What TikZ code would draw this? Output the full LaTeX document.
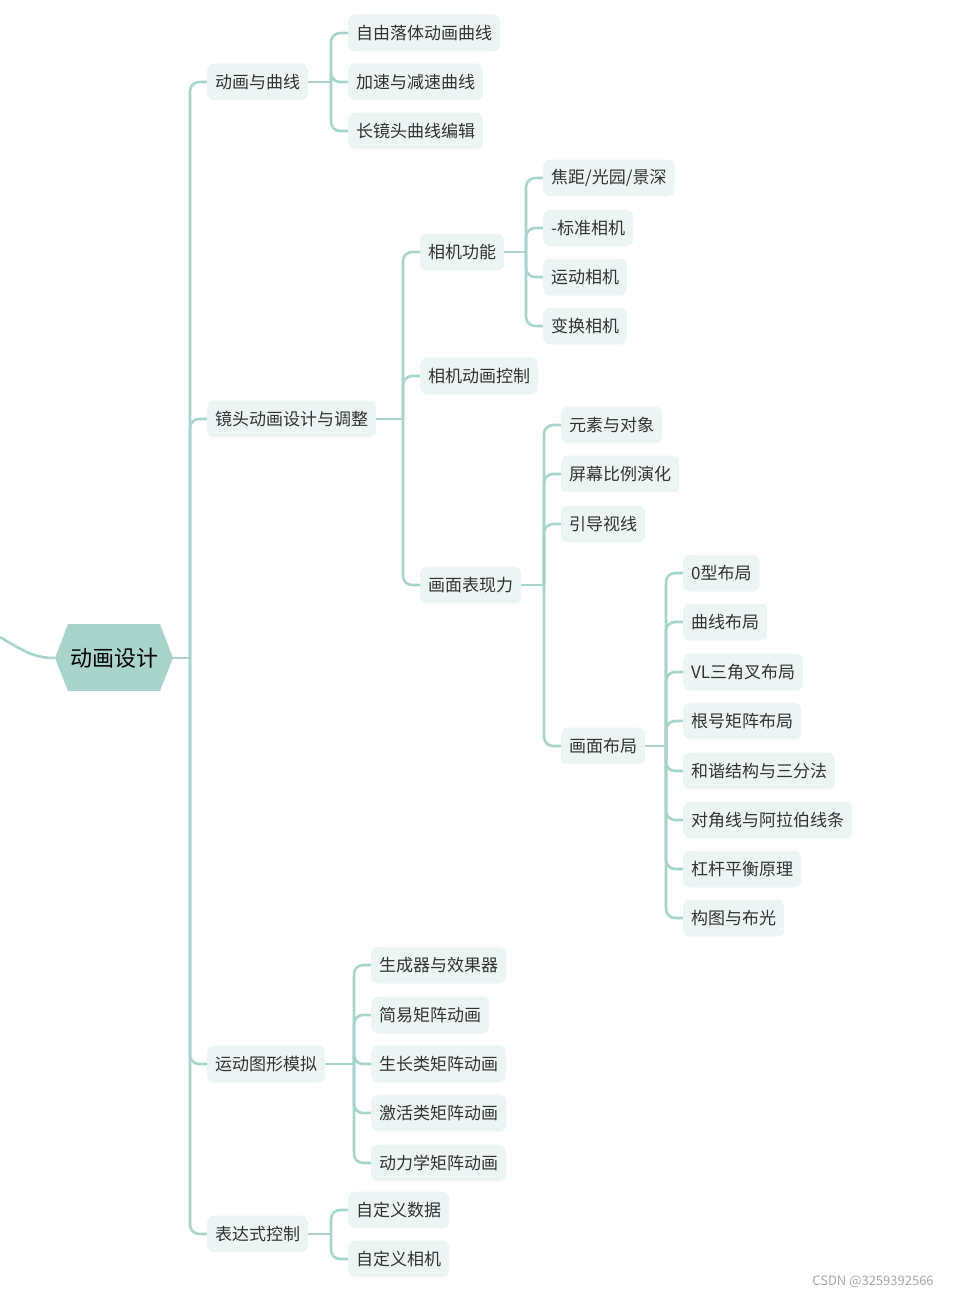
\documentclass[tikz,border=0pt]{standalone}
\usepackage{fontspec}
\setmainfont{Noto Sans CJK SC}
\definecolor{ln}{HTML}{A9D4CC}
\definecolor{bx}{HTML}{EDF5F4}
\definecolor{tx}{HTML}{333333}
\begin{document}
\begin{tikzpicture}[x=1pt,y=-1pt,
  nd/.style={anchor=west,fill=bx,rounded corners=7pt,inner xsep=8pt,minimum height=37pt,text=tx,font=\fontsize{17}{20}\selectfont},
  conn/.style={draw=ln,line width=2.6pt,rounded corners=9pt}]
\useasboundingbox (0,0) rectangle (968,1298);
% root
\fill[ln] (55,658)--(68,624)--(160,624)--(173,658)--(160,691)--(68,691)--cycle;
\node (root) at (114,658) [minimum width=118pt,minimum height=67pt,font=\fontsize{22}{26}\selectfont,text=black] {动画设计};
\coordinate (in) at (0,637);
\draw[conn] (in) .. controls (25,652) and (35,658) .. (root.west);
% level 1
\node[nd] (a) at (207,82) {动画与曲线};
\node[nd] (b) at (207,419) {镜头动画设计与调整};
\node[nd] (c) at (207,1064) {运动图形模拟};
\node[nd] (d) at (207,1234) {表达式控制};
% a
\node[nd] (a1) at (348,33) {自由落体动画曲线};
\node[nd] (a2) at (348,82) {加速与减速曲线};
\node[nd] (a3) at (348,131) {长镜头曲线编辑};
% b
\node[nd] (b1) at (420,252) {相机功能};
\node[nd] (b2) at (420,376) {相机动画控制};
\node[nd] (b3) at (420,585) {画面表现力};
\node[nd] (b11) at (543,178) {焦距/光园/景深};
\node[nd] (b12) at (543,228) {-标准相机};
\node[nd] (b13) at (543,277) {运动相机};
\node[nd] (b14) at (543,326) {变换相机};
\node[nd] (b31) at (561,425) {元素与对象};
\node[nd] (b32) at (561,474) {屏幕比例演化};
\node[nd] (b33) at (561,524) {引导视线};
\node[nd] (b34) at (561,746) {画面布局};
\node[nd] (e1) at (683,573) {0型布局};
\node[nd] (e2) at (683,622) {曲线布局};
\node[nd] (e3) at (683,672) {VL三角叉布局};
\node[nd] (e4) at (683,721) {根号矩阵布局};
\node[nd] (e5) at (683,771) {和谐结构与三分法};
\node[nd] (e6) at (683,820) {对角线与阿拉伯线条};
\node[nd] (e7) at (683,869) {杠杆平衡原理};
\node[nd] (e8) at (683,918) {构图与布光};
% c
\node[nd] (c1) at (371,965) {生成器与效果器};
\node[nd] (c2) at (371,1015) {简易矩阵动画};
\node[nd] (c3) at (371,1064) {生长类矩阵动画};
\node[nd] (c4) at (371,1113) {激活类矩阵动画};
\node[nd] (c5) at (371,1163) {动力学矩阵动画};
% d
\node[nd] (d1) at (348,1210) {自定义数据};
\node[nd] (d2) at (348,1259) {自定义相机};
% connectors
\foreach \p/\cs in {root/{a,b,c,d},a/{a1,a2,a3},b/{b1,b2,b3},b1/{b11,b12,b13,b14},b3/{b31,b32,b33,b34},b34/{e1,e2,e3,e4,e5,e6,e7,e8},c/{c1,c2,c3,c4,c5},d/{d1,d2}}{
  \foreach \c in \cs {
    \draw[conn,rounded corners=0pt] (\p.east) -- ([xshift=-17pt]\c.west |- \p.east);
    \draw[conn] ([xshift=-17pt]\c.west |- \p.east) |- (\c.west);
  }
}
\node (wm) at (873,1282) [text=gray!70,font=\fontsize{13}{15}\selectfont] {CSDN @3259392566};
\end{tikzpicture}
\end{document}
